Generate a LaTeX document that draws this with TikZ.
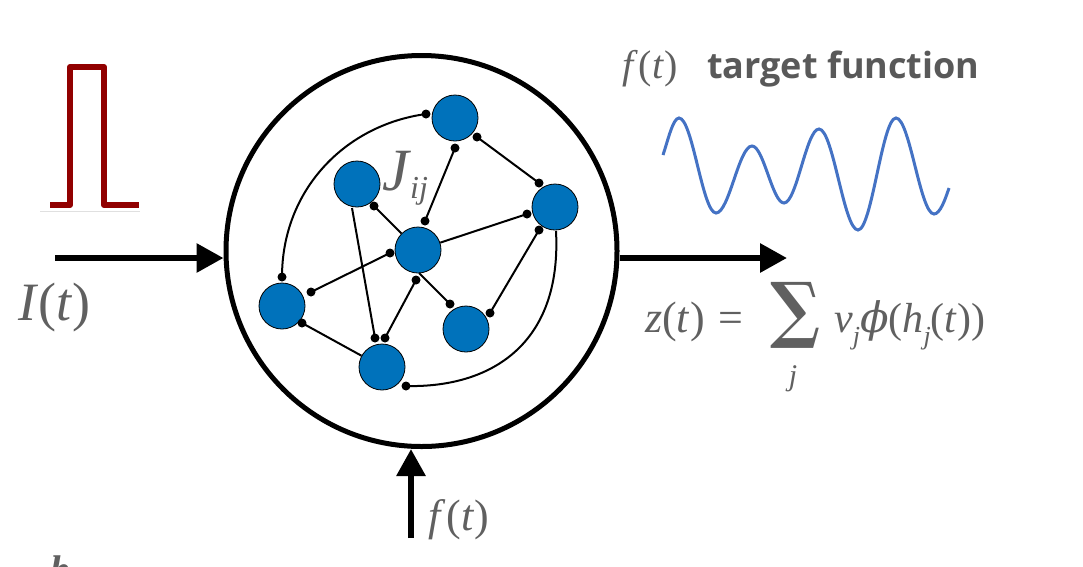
\documentclass[tikz,border=0pt]{standalone}
\usepackage{graphicx}
\usepackage{fontspec}
\setmainfont{Liberation Serif}
\newfontfamily\osans{Open Sans}
\newfontfamily\dvser{DejaVu Serif}
\usetikzlibrary{arrows.meta,calc}
\definecolor{txtgray}{RGB}{96,96,96}
\definecolor{labgray}{RGB}{89,89,89}
\definecolor{neuron}{RGB}{0,114,187}
\definecolor{pulsered}{RGB}{145,0,0}
\definecolor{waveblue}{RGB}{68,114,196}
\newcommand{\lowsub}[1]{\raisebox{-0.3em}{\fontsize{26}{28}\selectfont\textit{#1}}}
\tikzset{
  neu/.style={circle,draw=black,line width=0.8pt,fill=neuron,minimum size=46pt,inner sep=0pt},
  syn/.style={line width=2pt,black},
  dotend/.style={circle,fill=black,inner sep=0pt,minimum size=9pt},
  bigarrow/.style={line width=6pt,-{Triangle[length=27pt,width=28pt]}},
  lab/.style={text=txtgray,inner sep=0pt}
}
\begin{document}
\begin{tikzpicture}[x=1pt,y=-1pt]
\useasboundingbox[fill=white] (0,0) rectangle (1083,566);
% pulse
\draw[line width=0.6pt,black!12] (40,211) -- (140,211);
\draw[pulsered,line width=6pt,line join=round] (50,205) -- (70,205) -- (70,67) -- (104,67) -- (104,205) -- (139,205);
% reservoir circle
\node[circle,draw=black,line width=5pt,minimum size=391pt,inner sep=0pt] (res) at (421.5,251) {};
% input arrow
\coordinate (inI) at (55,258);
\draw[bigarrow] (inI) -- (res.west |- inI);
\node[lab,anchor=base west] (It) at (18,320) {\fontsize{54}{60}\selectfont\textit{I}(\textit{t})};
% output arrow
\coordinate (outz) at (787,258);
\draw[bigarrow] (res.east |- outz) -- (outz);
% feedback arrow
\coordinate (fin) at (411,538);
\draw[bigarrow] (fin) -- (fin |- res.south);
\node[lab,anchor=base west] (fb) at (428,530) {\fontsize{44}{50}\selectfont\textit{f}\kern1pt(\textit{t})};
% neurons
\node[neu] (A) at (455,118) {};
\node[neu] (B) at (357,184) {};
\node[neu] (C) at (418,250) {};
\node[neu] (D) at (555,207) {};
\node[neu] (E) at (282,306) {};
\node[neu] (F) at (466,329) {};
\node[neu] (G) at (382,367) {};
% synapse end points
\coordinate (a1) at ($(A)+(0,30)$);   \coordinate (c1) at ($(C)+(7,-29)$);
\coordinate (a2) at ($(A)+(22,19)$);  \coordinate (d2) at ($(D)+(-16,-24)$);
\coordinate (a3) at ($(A)+(-29,-4)$); \coordinate (e3) at ($(E)+(0,-29)$);
\coordinate (b4) at ($(B)+(17,22)$);
\coordinate (b5) at ($(B)+(-5,24)$);  \coordinate (g5) at ($(G)+(-7,-29)$);
\coordinate (d6) at ($(D)+(-28,7)$);
\coordinate (c7) at ($(C)+(-28,3)$);  \coordinate (e7) at ($(E)+(29,-14)$);
\coordinate (c8) at ($(C)+(-2,30)$);  \coordinate (g8) at ($(G)+(3,-29)$);
\coordinate (c9) at ($(C)+(1,23)$);   \coordinate (f9) at ($(F)+(-16,-25)$);
\coordinate (d10) at ($(D)+(-16,23)$); \coordinate (f10) at ($(F)+(24,-16)$);
\coordinate (d11) at ($(D)+(1,24)$);  \coordinate (g11) at ($(G)+(24,19)$);
\coordinate (e12) at ($(E)+(20,17)$);
% synapses
\draw[syn] (a1) -- (c1);
\draw[syn] (a2) -- (d2);
\draw[syn] (a3) .. controls ($(a3)+(-81,11)$) and ($(e3)+(0,-87)$) .. (e3);
\draw[syn] (b4) -- (C);
\draw[syn] (b5) -- (g5);
\draw[syn] (C) -- (d6);
\draw[syn] (c7) -- (e7);
\draw[syn] (c8) -- (g8);
\draw[syn] (c9) -- (f9);
\draw[syn] (d10) -- (f10);
\draw[syn] (d11) .. controls ($(d11)+(6,114)$) and ($(g11)+(84,2)$) .. (g11);
\draw[syn] (e12) -- (G);
\foreach \p in {a1,c1,a2,d2,a3,e3,b4,g5,d6,c7,e7,c8,g8,f9,d10,f10,g11,e12}
  \node[dotend] at (\p) {};
% J_ij label
\node[lab,anchor=base west] (J) at (382,190) {\fontsize{60}{62}\selectfont\textit{J}\kern-1pt\raisebox{-8pt}{\fontsize{32}{34}\selectfont\textit{ij}}};
% target function
\node[lab,anchor=base west] (ft) at (622,78) {\fontsize{40}{44}\selectfont\textit{f}\kern1pt(\textit{t})};
\node[anchor=base west,text=labgray,inner sep=0pt] (tf) at (707,78) {\osans\bfseries\fontsize{36}{40}\selectfont target function};
% wave
\draw[waveblue,line width=3pt] (663,155) .. controls (668,140) and (673,118) .. (679,118)
  .. controls (692.5,118) and (702.5,213) .. (716,213)
  .. controls (729.1,213) and (738.9,146) .. (752,146)
  .. controls (763.6,146) and (772.4,203) .. (784,203)
  .. controls (796.7,203) and (806.3,129) .. (819,129)
  .. controls (833.2,129) and (843.8,230) .. (858,230)
  .. controls (871.8,230) and (882.2,118) .. (896,118)
  .. controls (909.8,118) and (920.2,214) .. (934,214)
  .. controls (940,214) and (945,200) .. (949,188);
% output formula
\node[lab,anchor=base west] (zt) at (645,332) {\fontsize{44}{50}\selectfont\textit{z}(\textit{t})\kern14pt=};
\node[lab] (sum) at (795,315) {\resizebox*{50pt}{66pt}{\dvser\bfseries ∑}};
\node[lab,anchor=base] (sj) at (793,385) {\fontsize{30}{34}\selectfont\textit{j}};
\node[lab,anchor=base west] (vphi) at (834,332) {\fontsize{42}{50}\selectfont\textit{v}\lowsub{j}{\dvser\itshape ϕ}(\textit{h}\lowsub{j}(\textit{t}))};
% cropped panel label
\node[lab,anchor=north west] (pl) at (50,556) {\fontsize{40}{44}\selectfont\textbf{\textit{b}}};
\end{tikzpicture}
\end{document}
